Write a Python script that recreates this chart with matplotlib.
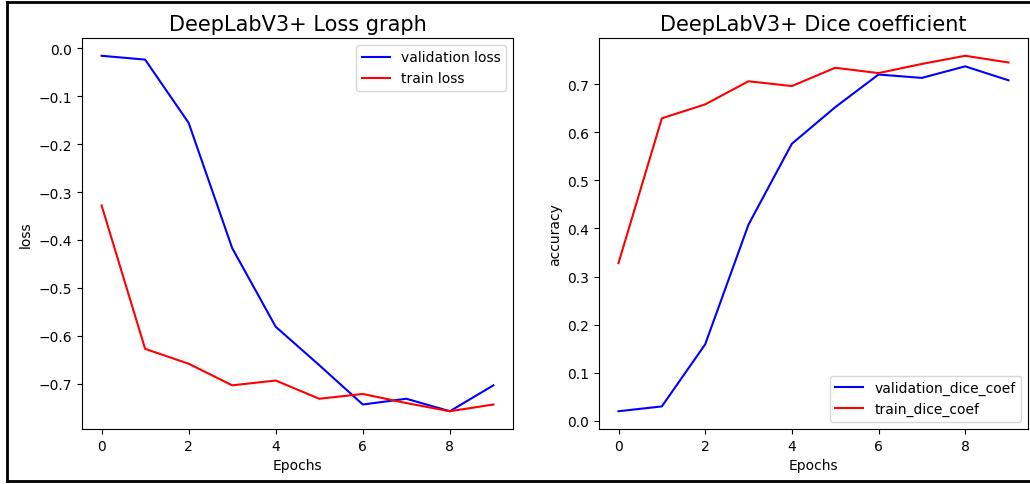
import matplotlib
matplotlib.use("Agg")
import matplotlib.pyplot as plt
from matplotlib.lines import Line2D

epochs = list(range(10))
val_loss = [-0.016, -0.024, -0.156, -0.417, -0.581, -0.661, -0.743, -0.731, -0.757, -0.703]
train_loss = [-0.328, -0.627, -0.658, -0.703, -0.693, -0.731, -0.721, -0.740, -0.757, -0.743]
val_dice = [0.020, 0.030, 0.159, 0.408, 0.576, 0.652, 0.720, 0.713, 0.737, 0.708]
train_dice = [0.328, 0.629, 0.658, 0.706, 0.696, 0.734, 0.723, 0.742, 0.759, 0.745]

fig = plt.figure(figsize=(10.30, 4.85), dpi=100)
W, H = 1030, 485

def pos(x0, x1, ytop, ybot):
    return [x0 / W, 1 - ybot / H, (x1 - x0) / W, (ybot - ytop) / H]

ax1 = fig.add_axes(pos(82, 513, 39, 430))
ax2 = fig.add_axes(pos(599, 1028, 39, 430))

ax1.plot(epochs, val_loss, color="blue", label="validation loss")
ax1.plot(epochs, train_loss, color="red", label="train loss")
ax1.set_title("DeepLabV3+ Loss graph", fontsize=15)
ax1.set_xlabel("Epochs")
ax1.set_ylabel("loss")
ax1.legend(loc="upper right")

ax2.plot(epochs, val_dice, color="blue", label="validation_dice_coef")
ax2.plot(epochs, train_dice, color="red", label="train_dice_coef")
ax2.set_title("DeepLabV3+ Dice coefficient", fontsize=15)
ax2.set_xlabel("Epochs")
ax2.set_ylabel("accuracy")
ax2.legend(loc="lower right")

# black frame around the picture (right side is cut off in the reference)
lw = 2.0
fig.add_artist(Line2D([7 / W, 7 / W], [1 - 3 / H, 1 - 482 / H], color="black", linewidth=lw, transform=fig.transFigure))
fig.add_artist(Line2D([7 / W, 1.0], [1 - 3 / H, 1 - 3 / H], color="black", linewidth=lw, transform=fig.transFigure))
fig.add_artist(Line2D([7 / W, 1.0], [1 - 482 / H, 1 - 482 / H], color="black", linewidth=lw, transform=fig.transFigure))

fig.savefig("out.png", dpi=100)
